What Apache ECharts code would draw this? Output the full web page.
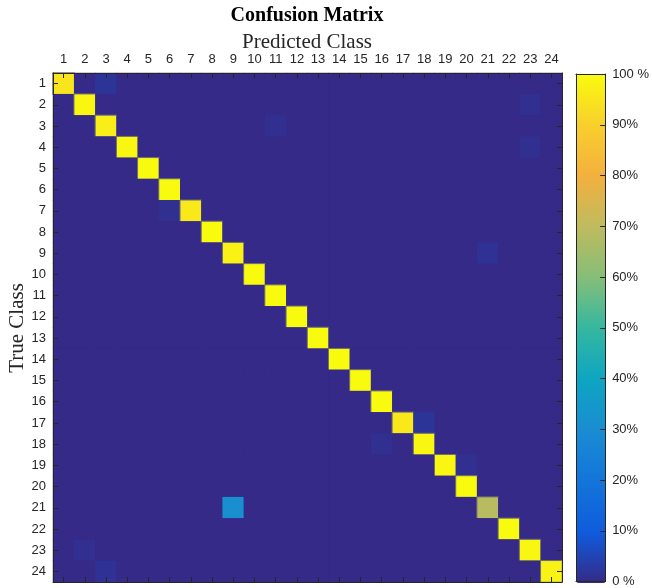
<!DOCTYPE html>
<html>
<head>
<meta charset="utf-8">
<script src="https://cdn.jsdelivr.net/npm/echarts@6/dist/echarts.min.js"></script>
<style>
  html, body { margin: 0; padding: 0; background: #fff; }
  #chart { width: 652px; height: 588px; }
</style>
</head>
<body>
<div id="chart"></div>
<script>
// class labels 1..24
const classes = ['1', '2', '3', '4', '5', '6', '7', '8', '9', '10', '11', '12',
  '13', '14', '15', '16', '17', '18', '19', '20', '21', '22', '23', '24']

// diagonal (correct) percentages, per true class
const diagonal = [95, 99, 97, 99, 100, 100, 96, 100, 98, 100, 100, 100,
  100, 100, 100, 100, 96, 99, 99, 100, 69, 100, 99, 98]

// off-diagonal confusions: [true class, predicted class, percent]
const confusions = [
  [1, 3, 2], [2, 23, 1], [3, 11, 1], [4, 23, 1], [7, 6, 1],
  [9, 21, 1.5], [17, 18, 2], [18, 16, 1], [19, 20, 1],
  [21, 9, 31], [23, 2, 1], [24, 3, 1.5]
]

// colorbar ticks
const cbarTicks = [0, 10, 20, 30, 40, 50, 60, 70, 80, 90, 100]

// parula-like colormap sampled at the colorbar ticks
const parula = ['#352a87', '#0f5cdd', '#1375d9', '#1a8cd2', '#0ea5c2', '#35b7a0',
  '#85be78', '#bfbb5e', '#f3b03f', '#f8cf2c', '#f9fb0e']

function buildData () {
  const m = classes.map(() => classes.map(() => 0))
  diagonal.forEach((v, i) => { m[i][i] = v })
  confusions.forEach(([r, c, v]) => { m[r - 1][c - 1] = v })
  const out = []
  m.forEach((row, r) => {
    row.forEach((v, c) => {
      const item = { value: [c, r, v] }
      if (v >= 50) item.itemStyle = { borderColor: '#6f6f6f', borderWidth: 1 }
      out.push(item)
    })
  })
  return out
}

const ink = '#262626'
const sans = 'Liberation Sans'

const box = { left: 53, top: 73, width: 509, height: 509 }
const cbar = { left: 576, top: 74, width: 30, height: 509 }

function edgeAxis (extra) {
  return Object.assign({
    type: 'category',
    data: classes,
    z: 10,
    axisLine: { show: true, lineStyle: { color: ink, width: 1 } },
    axisTick: { show: true, inside: true, length: 5, alignWithLabel: true, lineStyle: { color: ink } },
    axisLabel: { show: false },
    splitLine: { show: false }
  }, extra)
}

function plainValueAxis (extra) {
  return Object.assign({
    type: 'value',
    gridIndex: 1,
    z: 10,
    axisLine: { show: true, onZero: false, lineStyle: { color: ink } },
    axisTick: { show: false },
    axisLabel: { show: false },
    splitLine: { show: false }
  }, extra)
}

const chart = echarts.init(document.getElementById('chart'))
chart.setOption({
  animation: false,
  graphic: [{
    type: 'text',
    style: {
      x: 307, y: 16, text: 'Confusion Matrix', textAlign: 'center', textVerticalAlign: 'middle',
      font: 'bold 20px "Liberation Serif"', fill: '#000'
    }
  }, {
    type: 'text',
    style: {
      x: 307, y: 42, text: 'Predicted Class', textAlign: 'center', textVerticalAlign: 'middle',
      font: '21px "Liberation Serif"', fill: ink
    }
  }, {
    type: 'text',
    x: 17,
    y: 328,
    rotation: Math.PI / 2,
    style: {
      x: 0, y: 0, text: 'True Class', textAlign: 'center', textVerticalAlign: 'middle',
      font: '21px "Liberation Serif"', fill: ink
    }
  }],
  grid: [
    Object.assign({ show: true, backgroundColor: '#352a87', borderWidth: 0 }, box),
    Object.assign({ show: false }, cbar)
  ],
  xAxis: [
    edgeAxis({
      gridIndex: 0,
      position: 'top',
      axisLabel: { show: true, interval: 0, margin: 7, fontFamily: sans, fontSize: 13, color: ink }
    }),
    edgeAxis({ gridIndex: 0, position: 'bottom' }),
    plainValueAxis({ min: 0, max: 1, position: 'top' }),
    plainValueAxis({ min: 0, max: 1, position: 'bottom' })
  ],
  yAxis: [
    edgeAxis({
      gridIndex: 0,
      position: 'left',
      inverse: true,
      axisLabel: { show: true, interval: 0, margin: 7, fontFamily: sans, fontSize: 13, color: ink }
    }),
    edgeAxis({ gridIndex: 0, position: 'right', inverse: true }),
    plainValueAxis({
      min: 0, max: 100, interval: 10, position: 'right',
      axisTick: { show: true, inside: true, length: 5, lineStyle: { color: ink } },
      axisLabel: {
        show: true, margin: 7, fontFamily: sans, fontSize: 13, color: ink,
        formatter: v => (v === 0 || v === 100) ? v + ' %' : v + '%'
      }
    }),
    plainValueAxis({ min: 0, max: 100, position: 'left' })
  ],
  visualMap: {
    type: 'continuous',
    min: cbarTicks[0],
    max: cbarTicks[cbarTicks.length - 1],
    seriesIndex: 0,
    calculable: false,
    hoverLink: false,
    orient: 'vertical',
    left: cbar.left,
    top: cbar.top,
    padding: 0,
    itemWidth: cbar.width,
    itemHeight: cbar.height,
    showLabel: false,
    text: null,
    inRange: { color: parula }
  },
  series: [{
    type: 'heatmap',
    xAxisIndex: 0,
    yAxisIndex: 0,
    data: buildData(),
    emphasis: { disabled: true },
    itemStyle: { borderWidth: 0 }
  }]
})
</script>
</body>
</html>
